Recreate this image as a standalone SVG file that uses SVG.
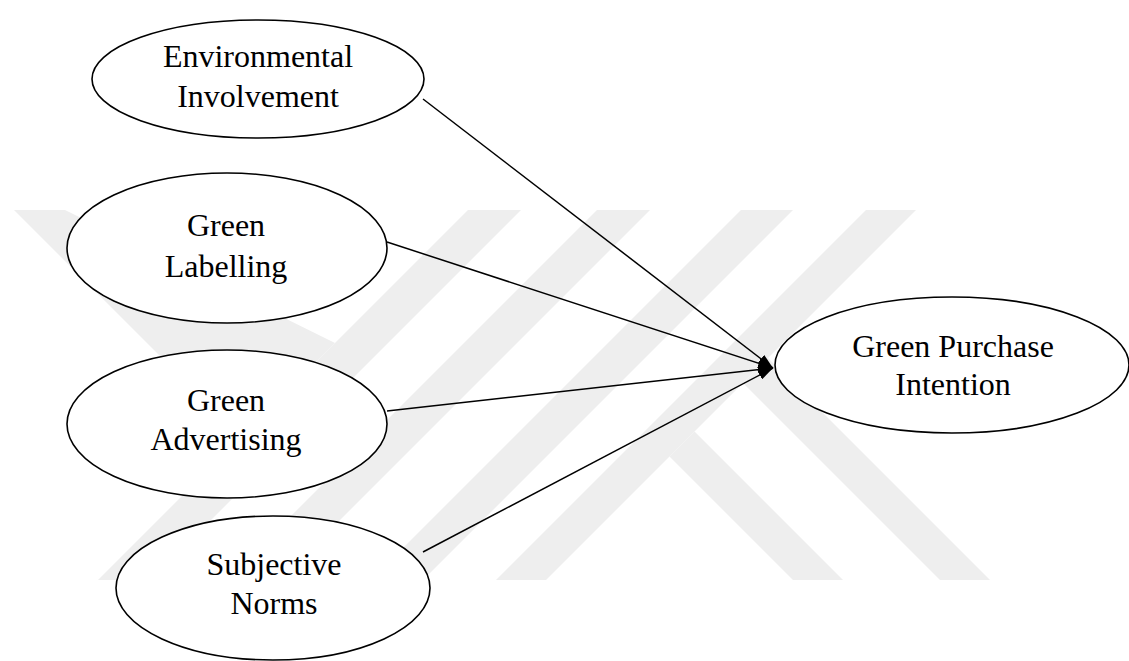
<svg xmlns="http://www.w3.org/2000/svg" width="1129" height="661" viewBox="0 0 1129 661">
  <defs>
    <style>
      .wm { fill: #eeeeee; stroke: none; }
      .node ellipse { fill: #ffffff; stroke: #000000; stroke-width: 1.6; }
      .node text { font-family: "Liberation Serif", "Times New Roman", serif; font-size: 32px; fill: #000000; text-anchor: middle; }
      .edge { stroke: #000000; stroke-width: 1.5; fill: none; marker-end: url(#arr); }
    </style>
    <marker id="arr" markerWidth="15" markerHeight="10" refX="15" refY="5" orient="auto" markerUnits="userSpaceOnUse">
      <path d="M0,0 L15,5 L0,10 z" fill="#000000"/>
    </marker>
  </defs>
  <rect x="0" y="0" width="1129" height="661" fill="#ffffff"/>

  <g id="watermark">
    <polygon class="wm" points="14,210 65,210 335,343 241,437"/>
    <polygon class="wm" points="468,210 521,210 151,580 98,580"/>
    <polygon class="wm" points="597,210 650,210 280,580 227,580"/>
    <polygon class="wm" points="741,210 793,210 423,580 371,580"/>
    <polygon class="wm" points="866,210 916,210 546,580 496,580"/>
    <polygon class="wm" points="669.5,456.5 694.5,431.5 843,580 793,580"/>
    <polygon class="wm" points="743,383 768,358 990,580 940,580"/>
  </g>

  <g id="connectors">
    <line class="edge" x1="423" y1="99" x2="773" y2="368"/>
    <line class="edge" x1="387" y1="242" x2="773" y2="368"/>
    <line class="edge" x1="387" y1="411" x2="773" y2="368"/>
    <line class="edge" x1="423" y1="552" x2="773" y2="368"/>
  </g>

  <g id="environmental-involvement" class="node">
    <ellipse cx="258" cy="79" rx="166" ry="59"/>
    <text x="258" y="67">Environmental</text>
    <text x="258" y="107">Involvement</text>
  </g>

  <g id="green-labelling" class="node">
    <ellipse cx="227" cy="248" rx="160" ry="75"/>
    <text x="226" y="236">Green</text>
    <text x="226" y="277">Labelling</text>
  </g>

  <g id="green-advertising" class="node">
    <ellipse cx="227" cy="424" rx="160" ry="74"/>
    <text x="226" y="411">Green</text>
    <text x="226" y="450">Advertising</text>
  </g>

  <g id="subjective-norms" class="node">
    <ellipse cx="273" cy="588" rx="157" ry="72"/>
    <text x="274" y="575">Subjective</text>
    <text x="274" y="614">Norms</text>
  </g>

  <g id="green-purchase-intention" class="node">
    <ellipse cx="952" cy="365" rx="177" ry="68"/>
    <text x="953" y="357">Green Purchase</text>
    <text x="953" y="395">Intention</text>
  </g>
</svg>
